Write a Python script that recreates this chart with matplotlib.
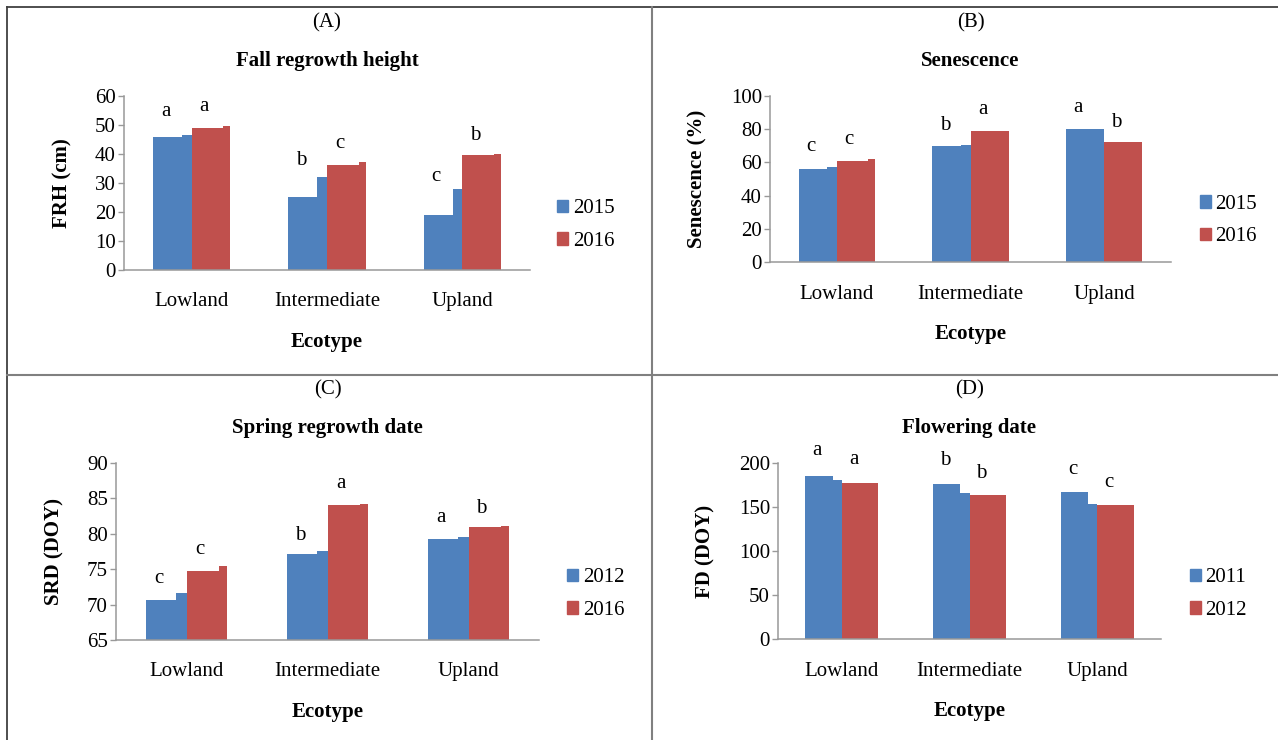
import matplotlib.pyplot as plt
from matplotlib.lines import Line2D
from matplotlib.patches import Patch

plt.rcParams['font.family'] = ['Liberation Serif', 'DejaVu Serif']

W, H = 1278, 740
BLUE = '#4F81BD'
RED = '#C0504D'

ecotypes = ['Lowland', 'Intermediate', 'Upland']

# (A) fall regrowth height
frh_years = ['2015', '2016']
frh_2015 = [46.0, 25.3, 18.9]
frh_2015_edge = [46.4, 32.2, 28.0]
frh_2016 = [49.1, 36.3, 39.5]
frh_2016_edge = [49.8, 37.2, 40.0]
frh_let_2015 = ['a', 'b', 'c']
frh_let_2016 = ['a', 'c', 'b']
frh_let_y_2015 = [53.0, 36.2, 30.6]
frh_let_y_2016 = [54.8, 42.1, 44.7]

# (B) senescence
sen_years = ['2015', '2016']
sen_2015 = [56.0, 70.0, 79.8]
sen_2015_edge = [57.2, 70.6, 79.8]
sen_2016 = [60.8, 79.0, 72.0]
sen_2016_edge = [62.2, 79.0, 72.0]
sen_let_2015 = ['c', 'b', 'a']
sen_let_2016 = ['c', 'a', 'b']
sen_let_y_2015 = [66.6, 79.2, 90.0]
sen_let_y_2016 = [71.1, 89.3, 81.2]

# (C) spring regrowth date
srd_years = ['2012', '2016']
srd_2012 = [70.7, 77.1, 79.3]
srd_2012_edge = [71.7, 77.6, 79.5]
srd_2016 = [74.8, 84.1, 80.9]
srd_2016_edge = [75.5, 84.2, 81.1]
srd_let_2012 = ['c', 'b', 'a']
srd_let_2016 = ['c', 'a', 'b']
srd_let_y_2012 = [73.0, 79.1, 81.6]
srd_let_y_2016 = [77.1, 86.4, 82.9]

# (D) flowering date
fd_years = ['2011', '2012']
fd_2011 = [185.6, 176.2, 166.7]
fd_2011_edge = [180.3, 166.0, 153.1]
fd_2012 = [176.9, 164.0, 152.3]
fd_2012_edge = [176.9, 164.0, 152.3]
fd_let_2011 = ['a', 'b', 'c']
fd_let_2012 = ['a', 'b', 'c']
fd_let_y_2011 = [209.6, 197.3, 187.7]
fd_let_y_2012 = [199.0, 182.9, 172.5]


def fx(px):
    return px / W


def fy(py):
    return 1 - py / H


def panel(fig, box, tag, title, ylabel, ylim, yticks, years,
          s1, s1e, s2, s2e, l1, l2, ly1, ly2, leg_x, leg_y):
    x0, top, x1, bot = box
    ax = fig.add_axes([fx(x0), fy(bot), fx(x1 - x0), (bot - top) / H])
    w = 0.285
    xs = range(len(ecotypes))
    for vals, edges, off, col, frac in [(s1, s1e, -w / 2, BLUE, 0.25),
                                        (s2, s2e, w / 2, RED, 0.18)]:
        for i in xs:
            left = i + off - w / 2
            ax.bar(left, vals[i] - ylim[0], w * (1 - frac), bottom=ylim[0],
                   align='edge', color=col, linewidth=0)
            ax.bar(left + w * (1 - frac), edges[i] - ylim[0], w * frac,
                   bottom=ylim[0], align='edge', color=col, linewidth=0)
    for i in xs:
        ax.text(i - w / 2 - 0.05, ly1[i], l1[i], ha='center', va='baseline',
                fontsize=15)
        ax.text(i + w / 2 - 0.05, ly2[i], l2[i], ha='center', va='baseline',
                fontsize=15)

    ax.set_xlim(-0.5, len(ecotypes) - 0.5)
    ax.set_ylim(*ylim)
    ax.set_yticks(yticks)
    ax.set_xticks(list(xs))
    ax.set_xticklabels(ecotypes, fontsize=15)
    ax.tick_params(axis='x', length=0, pad=16)
    ax.tick_params(axis='y', length=4.3, width=1, color='#999999',
                   labelsize=15, pad=1.5)
    for s in ['top', 'right']:
        ax.spines[s].set_visible(False)
    for s in ['left', 'bottom']:
        ax.spines[s].set_color('#999999')
        ax.spines[s].set_linewidth(1.1)

    hpx = bot - top
    ax.set_ylabel(ylabel, fontsize=15, fontweight='bold')
    ax.yaxis.set_label_coords(-(62 if ylim[1] < 100 else 73) / (x1 - x0), 0.5)
    ax.yaxis.label.set_verticalalignment('center')
    ax.set_xlabel('Ecotype', fontsize=15, fontweight='bold')
    ax.xaxis.set_label_coords(0.5, -(72 / hpx))
    ax.xaxis.label.set_verticalalignment('center')

    cx = fx((x0 + x1) / 2)
    fig.text(cx, fy(top - 73), tag, ha='center', va='center', fontsize=15)
    fig.text(cx, fy(top - 35), title, ha='center', va='center',
             fontsize=15, fontweight='bold')

    handles = [Patch(color=BLUE), Patch(color=RED)]
    ax.legend(handles, years, loc='center left',
              bbox_to_anchor=(fx(leg_x), fy(leg_y)),
              bbox_transform=fig.transFigure, frameon=False, fontsize=15,
              handlelength=0.55, handleheight=0.55, handletextpad=0.2,
              labelspacing=0.65, borderpad=0, borderaxespad=0)
    return ax


fig = plt.figure(figsize=(W / 100, H / 100), dpi=100)

panel(fig, (124, 96, 530, 270), '(A)', 'Fall regrowth height', 'FRH (cm)',
      (0, 60), range(0, 61, 10), frh_years,
      frh_2015, frh_2015_edge, frh_2016, frh_2016_edge,
      frh_let_2015, frh_let_2016, frh_let_y_2015, frh_let_y_2016, 557, 225)

panel(fig, (770, 95.7, 1171, 262.3), '(B)', 'Senescence', 'Senescence (%)',
      (0, 100), range(0, 101, 20), sen_years,
      sen_2015, sen_2015_edge, sen_2016, sen_2016_edge,
      sen_let_2015, sen_let_2016, sen_let_y_2015, sen_let_y_2016, 1200, 220.5)

panel(fig, (116, 463, 539, 640), '(C)', 'Spring regrowth date', 'SRD (DOY)',
      (65, 90), range(65, 91, 5), srd_years,
      srd_2012, srd_2012_edge, srd_2016, srd_2016_edge,
      srd_let_2012, srd_let_2016, srd_let_y_2012, srd_let_y_2016, 567, 594)

panel(fig, (778, 463, 1161, 639.3), '(D)', 'Flowering date', 'FD (DOY)',
      (0, 200), range(0, 201, 50), fd_years,
      fd_2011, fd_2011_edge, fd_2012, fd_2012_edge,
      fd_let_2011, fd_let_2012, fd_let_y_2011, fd_let_y_2012, 1190, 594)

# table borders
fig.add_artist(Line2D([fx(6.5), 1], [fy(7), fy(7)], color='#404040', lw=1.3))
fig.add_artist(Line2D([fx(6.5), fx(6.5)], [fy(7), 0], color='#404040', lw=1.3))
fig.add_artist(Line2D([fx(6.5), 1], [fy(374.5), fy(374.5)], color='#808080', lw=1.5))
fig.add_artist(Line2D([fx(651.5), fx(651.5)], [fy(7), 0], color='#808080', lw=1.5))

fig.savefig('out.png', dpi=100)
